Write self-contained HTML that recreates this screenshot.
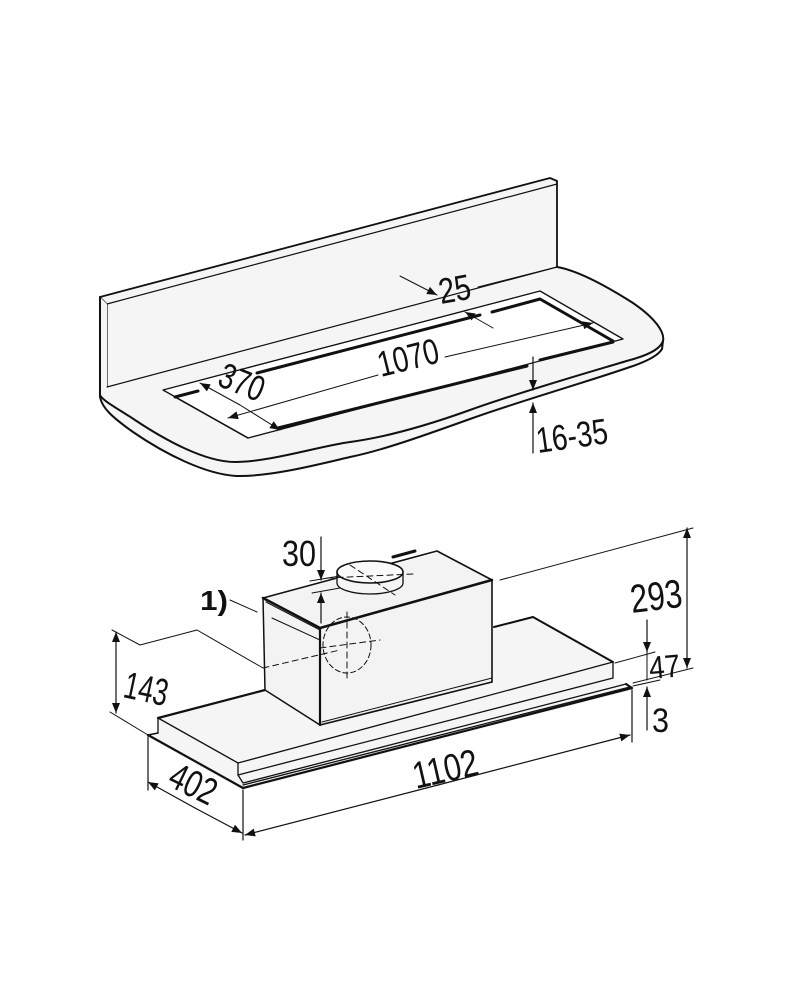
<!DOCTYPE html>
<html><head><meta charset="utf-8"><style>
html,body{margin:0;padding:0;background:#fff}
svg{display:block}
text{font-family:"Liberation Sans",Arial,sans-serif;fill:#111}
</style></head><body>
<svg width="800" height="1000" viewBox="0 0 800 1000" xmlns="http://www.w3.org/2000/svg">
<defs>
<marker id="a" viewBox="0 0 10 10" refX="10" refY="5" markerWidth="13" markerHeight="10" markerUnits="userSpaceOnUse" orient="auto"><path d="M0,1 L10,5 L0,9 Z" fill="#111"/></marker>
</defs>
<g stroke="#111" fill="none" stroke-linejoin="round" stroke-linecap="round">
<path d="M100,297 L550,178 L557,181 L557,267 L107,387 L107,304 L100,297 Z" fill="#f5f5f5" stroke="none"/>
<path d="M100,297 L550,178 L557,181" stroke-width="1.8"/>
<path d="M107,304 L557,184" stroke-width="1.2"/>
<path d="M100,297 L107,304 L107,387" stroke-width="1.2"/>
<path d="M557,181 L557,267" stroke-width="1.8"/>
<path d="M107,387 L557,267 C575,270 600,282 633,303 C655,318 665,332 663,341 C660,352 645,360 630,366 C590,380 520,400 470,418 C420,436 380,450 350,457 C320,465 270,478 235,475 C210,472 160,452 130,432 C110,418 100,405 100,395 L100,297 L107,304 Z" fill="#f5f5f5" stroke="none"/>
<path d="M107,387 L557,267" stroke-width="1.2"/>
<path d="M557,267 C575,270 600,282 633,303 C655,318 665,332 663,341 C660,350 645,356 630,360 C590,372 520,392 470,410 C420,428 380,438 350,442 C320,446 270,462 235,462 C205,462 165,440 135,420 C115,407 102,400 100,395" stroke-width="2"/>
<path d="M663,341 L662,349 C658,356 645,362 630,367 C590,381 520,401 470,419 C420,437 380,451 350,457 C320,464 270,477 236,476 C205,474 165,454 133,432 C112,417 102,408 100,397 L100,297" stroke-width="2"/>
<path d="M163,390 L540,291 L623,339 L248,438 Z" fill="#fff" stroke-width="1.3"/>
<path d="M175,397 L198,391" stroke-width="3"/>
<path d="M257,373 L480,315" stroke-width="3"/>
<path d="M492,312 L540,299 L613,341" stroke-width="3"/>
<path d="M175,397 L248,438" stroke-width="1.3"/>
<path d="M278,428 L527,366" stroke-width="3"/>
<path d="M540,360 L613,342" stroke-width="3"/>
<path d="M247,368 L468,310" stroke-width="1"/>
<path d="M400,276 L437,295" stroke-width="1" marker-end="url(#a)"/>
<path d="M493,328 L465,312" stroke-width="1" marker-end="url(#a)"/>
<path d="M478,287 L557,267" stroke-width="1"/>
<path d="M378,375 L228,418" stroke-width="1" marker-end="url(#a)"/>
<path d="M445,357 L593,323" stroke-width="1" marker-end="url(#a)"/>
<path d="M240,405 L200,383" stroke-width="1" marker-end="url(#a)"/>
<path d="M240,405 L280,430" stroke-width="1" marker-end="url(#a)"/>
<path d="M533,357 L533,390" stroke-width="1.2" marker-end="url(#a)"/>
<path d="M533,453 L533,403" stroke-width="1.2" marker-end="url(#a)"/>

<path d="M148,735 L150,733 L158,733 L158,718 L265,690 L533,617 L613,662 L613,678 L630,686 L632,690 L243,790 L148,737 Z" fill="#f5f5f5" stroke="none"/>
<path d="M158,718 L265,690" stroke-width="2.2"/>
<path d="M494,627 L533,617 L613,662" stroke-width="2"/>
<path d="M158,718 L238,763 L613,662" stroke-width="1.3"/>
<path d="M158,718 L158,733" stroke-width="1.3"/>
<path d="M238,763 L238,775 L613,678 L613,662" stroke-width="1.3"/>
<path d="M238,775 L243,783 L626,684" stroke-width="1.3"/>
<path d="M243,785 L630,687" stroke-width="1.3"/>
<path d="M148,735 L158,733" stroke-width="1.5"/>
<path d="M148,735 L243,788 L632,688 L626,684" stroke-width="2.2"/>
<path d="M263,598 L441,552 L492,580 L492,682 L320,725 L265,690 Z" fill="#f3f3f3" stroke="none"/>
<path d="M263,598 L320,628 L492,580" stroke-width="2.5"/>
<path d="M266,602 L320,630" stroke-width="1"/>
<path d="M263,598 L437,551 L492,580" stroke-width="1.6"/>
<path d="M263,598 L265,690 L320,725" stroke-width="1.5"/>
<path d="M320,628 L320,725" stroke-width="2.2"/>
<path d="M492,580 L492,682" stroke-width="1.6"/>
<path d="M320,725 L492,682" stroke-width="1.6"/>
<path d="M322,722 L492,678" stroke-width="1"/>
<path d="M393,557 L415,551" stroke-width="3"/>
<path d="M337,572 L337,583 A33,11 0 0 0 403,583 L403,572" fill="#f5f5f5" stroke-width="1.3"/>
<ellipse cx="370" cy="572" rx="33" ry="11" fill="#fafafa" stroke-width="1.6"/>
<path d="M327,578 L413,574 M350,565 L395,595" stroke-width="1" stroke-dasharray="6,4"/>
<ellipse cx="347" cy="645" rx="24" ry="28" stroke-width="1" stroke-dasharray="5,3"/>
<path d="M347,612 L347,680 M320,648 L380,640" stroke-width="1" stroke-dasharray="6,4"/>
<path d="M263,668 L340,650" stroke-width="1" stroke-dasharray="6,4"/>
<path d="M230,600 L257,612" stroke-width="1"/>
<path d="M272,618 L320,640" stroke-width="1"/>
<path d="M321,537 L321,580" stroke-width="1.2" marker-end="url(#a)"/>
<path d="M321,623 L321,593" stroke-width="1.2" marker-end="url(#a)"/>
<path d="M312,593 L340,588 M310,581 L340,576" stroke-width="1"/>
<path d="M112,630 L140,645 L197,630 L263,668" stroke-width="1"/>
<path d="M110,712 L148,735" stroke-width="1"/>
<path d="M116,672 L116,632" stroke-width="1.2" marker-end="url(#a)"/>
<path d="M116,672 L116,713" stroke-width="1.2" marker-end="url(#a)"/>
<path d="M148,737 L148,790 M243,790 L243,840" stroke-width="1.2"/>
<path d="M195,808 L148,782" stroke-width="1.2" marker-end="url(#a)"/>
<path d="M195,808 L242,833" stroke-width="1.2" marker-end="url(#a)"/>
<path d="M632,690 L632,742" stroke-width="1.2"/>
<path d="M438,785 L245,835" stroke-width="1.2" marker-end="url(#a)"/>
<path d="M438,785 L630,735" stroke-width="1.2" marker-end="url(#a)"/>
<path d="M500,580 L693,528" stroke-width="1"/>
<path d="M615,663 L655,652" stroke-width="1"/>
<path d="M633,683 L693,668 M633,686 L660,680" stroke-width="1"/>
<path d="M687,600 L687,528" stroke-width="1.2" marker-end="url(#a)"/>
<path d="M687,600 L687,668" stroke-width="1.2" marker-end="url(#a)"/>
<path d="M647,620 L647,652" stroke-width="1.2" marker-end="url(#a)"/>
<path d="M647,652 L647,680" stroke-width="1"/>
<path d="M647,730 L647,687" stroke-width="1.2" marker-end="url(#a)"/>
</g>
<text x="0" y="0" font-size="36" transform="translate(441,304) rotate(-10)" textLength="32" lengthAdjust="spacingAndGlyphs">25</text>
<text x="0" y="0" font-size="36" transform="translate(381,377) rotate(-14)" textLength="62" lengthAdjust="spacingAndGlyphs">1070</text>
<text x="0" y="0" font-size="36" transform="translate(216,385) rotate(22)" textLength="46" lengthAdjust="spacingAndGlyphs">370</text>
<text x="0" y="0" font-size="36" transform="translate(538,453) rotate(-8)" textLength="72" lengthAdjust="spacingAndGlyphs">16-35</text>
<text x="282" y="566" font-size="36" textLength="34" lengthAdjust="spacingAndGlyphs">30</text>
<text x="200" y="610" font-size="28" font-weight="bold" textLength="28" lengthAdjust="spacingAndGlyphs">1)</text>
<text x="0" y="0" font-size="38" transform="translate(122,697) rotate(12)" textLength="44" lengthAdjust="spacingAndGlyphs">143</text>
<text x="0" y="0" font-size="38" transform="translate(166,785) rotate(26)" textLength="48" lengthAdjust="spacingAndGlyphs">402</text>
<text x="0" y="0" font-size="38" transform="translate(416,789) rotate(-13)" textLength="66" lengthAdjust="spacingAndGlyphs">1102</text>
<text x="0" y="0" font-size="40" transform="translate(632,613) rotate(-7)" textLength="52" lengthAdjust="spacingAndGlyphs">293</text>
<text x="0" y="0" font-size="32" transform="translate(650,679) rotate(-5)" textLength="31" lengthAdjust="spacingAndGlyphs">47</text>
<text x="652" y="732" font-size="34" textLength="17" lengthAdjust="spacingAndGlyphs">3</text>
</svg>
</body></html>
